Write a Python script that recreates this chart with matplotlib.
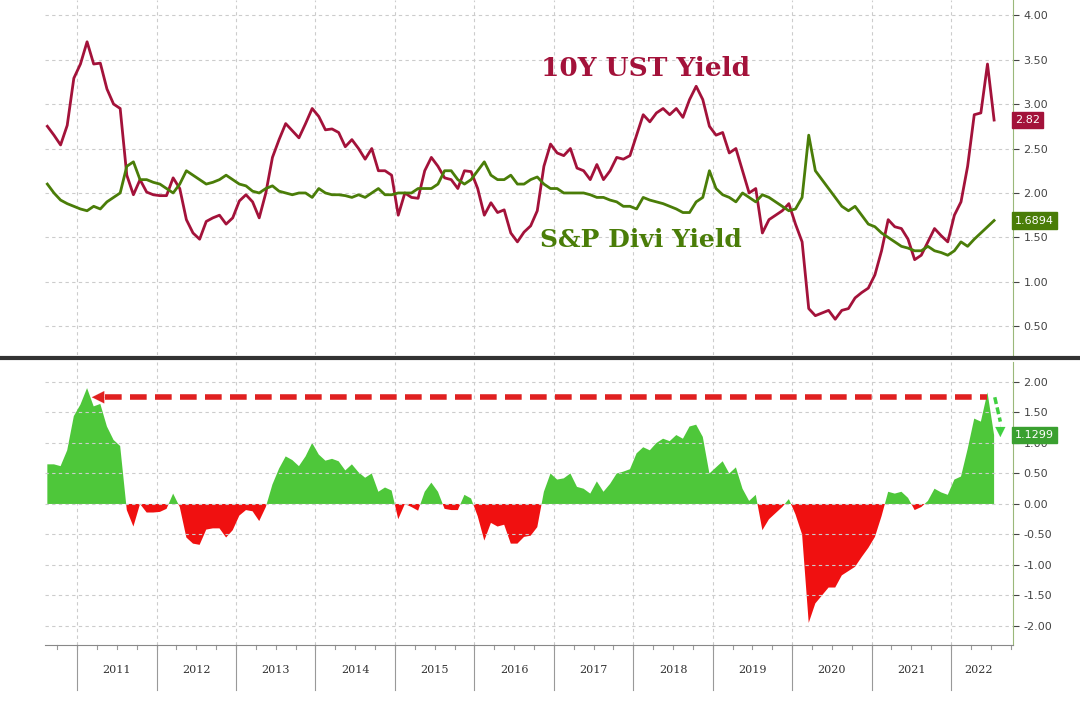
import numpy as np
import matplotlib
matplotlib.use("Agg")
import matplotlib.pyplot as plt

# monthly data, Aug 2010 .. Jun 2022
ust10y = [2.75, 2.65, 2.54, 2.76, 3.29,
          3.45, 3.70, 3.45, 3.46, 3.17, 3.00, 2.95, 2.20, 1.98, 2.15, 2.01, 1.98,
          1.97, 1.97, 2.17, 2.05, 1.70, 1.55, 1.48, 1.68, 1.72, 1.75, 1.65, 1.72,
          1.91, 1.98, 1.90, 1.72, 2.00, 2.40, 2.60, 2.78, 2.70, 2.62, 2.78, 2.95,
          2.86, 2.71, 2.72, 2.68, 2.52, 2.60, 2.50, 2.38, 2.50, 2.25, 2.25, 2.20,
          1.75, 2.00, 1.95, 1.94, 2.25, 2.40, 2.30, 2.17, 2.15, 2.05, 2.25, 2.24,
          2.05, 1.75, 1.89, 1.78, 1.81, 1.55, 1.45, 1.56, 1.63, 1.80, 2.30, 2.55,
          2.45, 2.42, 2.50, 2.28, 2.25, 2.15, 2.32, 2.15, 2.25, 2.40, 2.38, 2.42,
          2.65, 2.88, 2.80, 2.90, 2.95, 2.88, 2.95, 2.85, 3.05, 3.20, 3.05, 2.75,
          2.65, 2.68, 2.45, 2.50, 2.25, 2.00, 2.05, 1.55, 1.70, 1.75, 1.80, 1.88,
          1.65, 1.45, 0.70, 0.62, 0.65, 0.68, 0.58, 0.68, 0.70, 0.82, 0.88, 0.93,
          1.08, 1.35, 1.70, 1.62, 1.60, 1.48, 1.25, 1.30, 1.45, 1.60, 1.52, 1.45,
          1.75, 1.90, 2.30, 2.88, 2.90, 3.45, 2.82]
spx_div = [2.10, 2.00, 1.92, 1.88, 1.85,
           1.82, 1.80, 1.85, 1.82, 1.90, 1.95, 2.00, 2.30, 2.35, 2.15, 2.15, 2.12,
           2.10, 2.05, 2.00, 2.10, 2.25, 2.20, 2.15, 2.10, 2.12, 2.15, 2.20, 2.15,
           2.10, 2.08, 2.02, 2.00, 2.05, 2.08, 2.02, 2.00, 1.98, 2.00, 2.00, 1.95,
           2.05, 2.00, 1.98, 1.98, 1.97, 1.95, 1.98, 1.95, 2.00, 2.05, 1.98, 1.98,
           2.00, 2.00, 2.00, 2.05, 2.05, 2.05, 2.10, 2.25, 2.25, 2.15, 2.10, 2.15,
           2.25, 2.35, 2.20, 2.15, 2.15, 2.20, 2.10, 2.10, 2.15, 2.18, 2.10, 2.05,
           2.05, 2.00, 2.00, 2.00, 2.00, 1.98, 1.95, 1.95, 1.92, 1.90, 1.85, 1.85,
           1.82, 1.95, 1.92, 1.90, 1.88, 1.85, 1.82, 1.78, 1.78, 1.90, 1.95, 2.25,
           2.05, 1.98, 1.95, 1.90, 2.00, 1.95, 1.90, 1.98, 1.95, 1.90, 1.85, 1.80,
           1.82, 1.95, 2.65, 2.25, 2.15, 2.05, 1.95, 1.85, 1.80, 1.85, 1.75, 1.65,
           1.62, 1.55, 1.50, 1.45, 1.40, 1.38, 1.35, 1.35, 1.40, 1.35, 1.33, 1.30,
           1.35, 1.45, 1.40, 1.48, 1.55, 1.62, 1.69]
t = 2010.625 + np.arange(len(ust10y)) / 12.0
u = np.array(ust10y); d = np.array(spx_div); spread = u - d
years = list(range(2011, 2023))

RED = "#a3123a"; GRN = "#4a7d08"; FILLG = "#4ec73a"; FILLR = "#f01010"

fig = plt.figure(figsize=(10.8, 7.04), dpi=100)
ax1 = fig.add_axes([0.042, 0.496, 0.896, 0.504])
ax2 = fig.add_axes([0.042, 0.084, 0.896, 0.402])
xlim = (2010.6, 2022.78)

for ax in (ax1, ax2):
    ax.set_xlim(*xlim)
    ax.yaxis.tick_right()
    for y in years:
        ax.axvline(y, color="#cccccc", ls=(0, (3, 3)), lw=0.8, zorder=0)
    ax.grid(axis="y", color="#cccccc", ls=(0, (3, 3)), lw=0.8)
    ax.set_xticks([])
    for s in ("top", "left"):
        ax.spines[s].set_visible(False)
    ax.spines["right"].set_color("#9ab87a")
    ax.tick_params(axis="y", labelsize=8, colors="#444444", length=4)

ax1.plot(t, u, color=RED, lw=2.0)
ax1.plot(t, d, color=GRN, lw=2.0)
ax1.set_ylim(0.18, 4.17)
ax1.set_yticks(np.arange(0.5, 4.01, 0.5))
ax1.set_yticklabels([f"{v:.2f}" for v in np.arange(0.5, 4.01, 0.5)])
ax1.spines["bottom"].set_visible(False)
ax1.text(2018.15, 3.40, "10Y UST Yield", color=RED, fontsize=19, fontweight="bold",
         family="DejaVu Serif", ha="center", va="center")
ax1.text(2018.1, 1.47, "S&P Divi Yield", color=GRN, fontsize=18, fontweight="bold",
         family="DejaVu Serif", ha="center", va="center")
ax1.text(1.002, (u[-1]-0.18)/(4.17-0.18), f"{u[-1]:.2f}", transform=ax1.transAxes,
         color="white", fontsize=8, va="center", ha="left",
         bbox=dict(boxstyle="square,pad=0.3", fc=RED, ec=RED))
ax1.text(1.002, (d[-1]-0.18)/(4.17-0.18), "1.6894", transform=ax1.transAxes,
         color="white", fontsize=8, va="center", ha="left",
         bbox=dict(boxstyle="square,pad=0.3", fc=GRN, ec=GRN))

ax2.fill_between(t, spread, 0, where=spread >= 0, interpolate=True, color=FILLG, lw=0)
ax2.fill_between(t, spread, 0, where=spread < 0, interpolate=True, color=FILLR, lw=0)
ax2.set_ylim(-2.31, 2.33)
ax2.set_yticks(np.arange(-2, 2.01, 0.5))
ax2.set_yticklabels([f"{v:.2f}" for v in np.arange(-2, 2.01, 0.5)])
ax2.spines["bottom"].set_color("#888888")
# red dashed arrow
ax2.plot([2011.35, 2022.45], [1.75, 1.75], color="#e02020", lw=4, ls=(0, (3, 1.5)))
ax2.annotate("", xy=(2011.15, 1.75), xytext=(2011.45, 1.75),
             arrowprops=dict(arrowstyle="-|>", color="#e02020", lw=0.1, mutation_scale=22))
# green dashed down arrow
ax2.plot([2022.55, 2022.62], [1.75, 1.35], color="#40d040", lw=2.5, ls=(0, (2, 1)))
ax2.annotate("", xy=(2022.62, 1.05), xytext=(2022.62, 1.35),
             arrowprops=dict(arrowstyle="-|>", color="#40d040", lw=0.1, mutation_scale=18))
ax2.text(1.002, (spread[-1]+2.31)/4.64, "1.1299", transform=ax2.transAxes,
         color="white", fontsize=8, va="center", ha="left",
         bbox=dict(boxstyle="square,pad=0.3", fc="#3aa030", ec="#3aa030"))

# divider
fig.add_artist(plt.Line2D([0, 1], [0.491, 0.491], color="#333333", lw=3))

# year axis below
for y in years:
    ax2.plot([y, y], [-0.0, -0.16], transform=ax2.get_xaxis_transform(), color="#999999",
             lw=0.8, clip_on=False)
for y in years:
    xc = y + 0.5 if y < 2022 else y + 0.35
    ax2.text(xc, -0.09, str(y), transform=ax2.get_xaxis_transform(), ha="center",
             va="center", fontsize=8, color="#333333", family="DejaVu Serif")
for q in np.arange(2010.75, 2022.76, 0.25):
    ax2.plot([q, q], [0, -0.015], transform=ax2.get_xaxis_transform(), color="#999999",
             lw=0.8, clip_on=False)

fig.savefig("out.png", dpi=100, facecolor="white")
